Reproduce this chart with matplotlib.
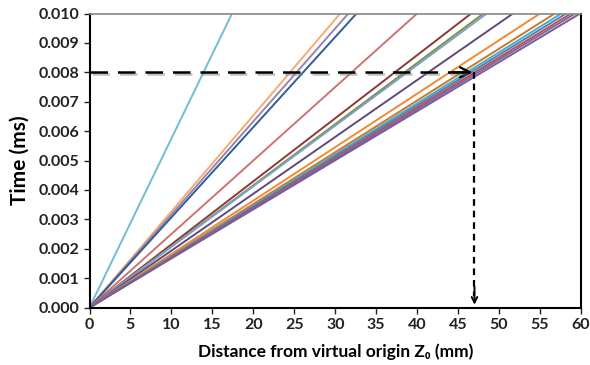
import matplotlib
matplotlib.use("Agg")
import matplotlib.pyplot as plt
import matplotlib.patheffects as pe
from matplotlib.ticker import FormatStrFormatter

# distance (mm) reached at t = 0.010 ms for each line
end_dist = [17.4, 30.6, 31.6, 32.6, 40.0, 46.6, 48.1, 48.5, 51.7, 55.0,
            56.8, 57.6, 58.2, 58.8, 59.3, 59.9]
line_colors = ['#72BCD4', '#F9AB6B', '#9983B5', '#2F5D95', '#CD7371', '#8C3836',
               '#77933C', '#7F9FD0', '#5F497A', '#F08A32', '#C9772E', '#4BACC6',
               '#4F81BD', '#C0504D', '#8064A2', '#7A5C94']
t_end = 0.010
marker_t = 0.008
marker_d = 47.0

plt.rcParams['font.family'] = ['Lato', 'DejaVu Sans']
fig = plt.figure(figsize=(5.9, 3.65), dpi=100)
ax = fig.add_axes([0.1517, 0.1575, 0.8330, 0.8055])

for d, c in zip(end_dist, line_colors):
    ax.plot([0, d], [0, t_end], color=c, lw=1.4, solid_capstyle='butt')

shadow = [pe.SimpleLineShadow(offset=(1.5, -1.5), shadow_color='gray', alpha=0.5), pe.Normal()]
ax.plot([0, marker_d - 0.3], [marker_t, marker_t], color='black', lw=1.8,
        dashes=(7, 4), path_effects=shadow, zorder=5)
ax.annotate('', xy=(marker_d + 0.1, marker_t), xytext=(marker_d - 3, marker_t),
            arrowprops=dict(arrowstyle='->', lw=1.6, color='black', mutation_scale=18))
ax.plot([marker_d, marker_d], [marker_t, 0.0004], color='black', lw=1.6,
        dashes=(3, 2.2), zorder=5)
ax.annotate('', xy=(marker_d, 0.0), xytext=(marker_d, 0.0008),
            arrowprops=dict(arrowstyle='->', lw=1.4, color='black', mutation_scale=10))

ax.set_xlim(0, 60)
ax.set_ylim(0, 0.010)
ax.set_xticks(range(0, 61, 5))
ax.set_yticks([i / 1000 for i in range(0, 11)])
ax.yaxis.set_major_formatter(FormatStrFormatter('%.3f'))
for s in ['left', 'bottom', 'right']:
    ax.spines[s].set_color('black')
    ax.spines[s].set_linewidth(1.5)
ax.spines['top'].set_color('#868686')
ax.spines['top'].set_linewidth(1.2)
ax.tick_params(axis='both', direction='out', length=4, width=1.0, labelsize=11.5,
               top=False, right=False, colors='#222222')
for lab in ax.get_xticklabels() + ax.get_yticklabels():
    lab.set_fontweight('bold')
ax.set_xlabel('Distance from virtual origin Z\u2080 (mm)', fontsize=12.5,
              fontweight='bold', labelpad=8)
ax.set_ylabel('Time (ms)', fontsize=15, fontweight='bold', labelpad=6)

fig.savefig('out.png', dpi=100)
